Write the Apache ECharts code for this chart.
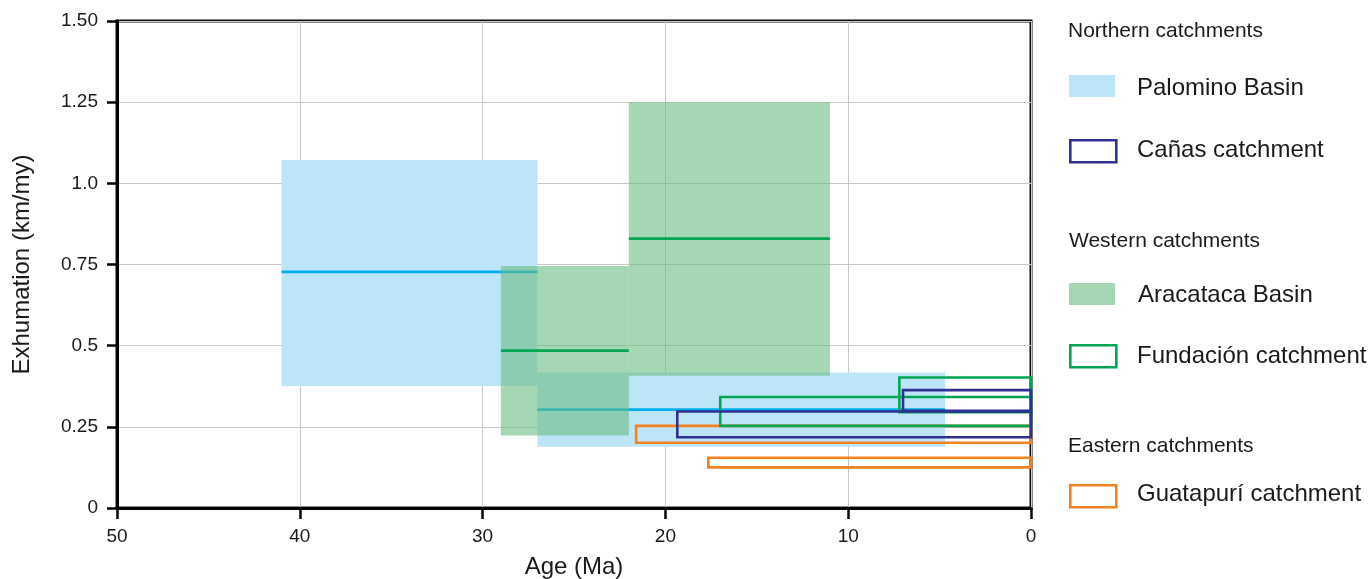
<!DOCTYPE html>
<html>
<head>
<meta charset="utf-8">
<script src="https://cdn.jsdelivr.net/npm/echarts@6/dist/echarts.min.js"></script>
<style>html,body{margin:0;padding:0;background:#fff;}#c{width:1369px;height:579px;}</style>
</head>
<body>
<div id="c"></div>
<script>
// Data: each box = [older age (Ma), younger age (Ma), low rate, high rate, mean rate]
var palominoBoxes = [[41, 27, 0.376, 1.072, 0.727], [27, 4.7, 0.189, 0.417, 0.303]];
var aracatacaBoxes = [[29, 22, 0.223, 0.745, 0.485], [22, 11, 0.407, 1.25, 0.83]];
// outline boxes = [older age, younger age, low rate, high rate]
var canasBoxes = [[19.35, 0, 0.218, 0.297], [7.0, 0, 0.299, 0.363]];
var fundacionBoxes = [[17.0, 0, 0.253, 0.342], [7.2, 0, 0.295, 0.402]];
var guatapuriBoxes = [[21.6, 0, 0.201, 0.253], [17.65, 0, 0.125, 0.155]];
var xTicks = [50, 40, 30, 20, 10, 0];
var yTickLabels = {'0': '0', '0.25': '0.25', '0.5': '0.5', '0.75': '0.75', '1': '1.0', '1.25': '1.25', '1.5': '1.50'};

var FONT = '"Liberation Sans", Arial, sans-serif';

function filledBox(fill, lineColor, opacity) {
  return function (params, api) {
    var p1 = api.coord([api.value(0), api.value(3)]);
    var p2 = api.coord([api.value(1), api.value(2)]);
    var pm1 = api.coord([api.value(0), api.value(4)]);
    var pm2 = api.coord([api.value(1), api.value(4)]);
    var x = Math.min(p1[0], p2[0]), y = Math.min(p1[1], p2[1]);
    return {
      type: 'group',
      children: [
        {type: 'rect', shape: {x: x, y: y, width: Math.abs(p2[0] - p1[0]), height: Math.abs(p2[1] - p1[1])},
         style: {fill: fill, opacity: opacity}},
        {type: 'line', shape: {x1: pm1[0], y1: pm1[1], x2: pm2[0], y2: pm2[1]},
         style: {stroke: lineColor, lineWidth: 2.8}}
      ]
    };
  };
}
function outlineBox(color) {
  return function (params, api) {
    var p1 = api.coord([api.value(0), api.value(3)]);
    var p2 = api.coord([api.value(1), api.value(2)]);
    var x = Math.min(p1[0], p2[0]), y = Math.min(p1[1], p2[1]);
    return {type: 'rect', shape: {x: x, y: y, width: Math.abs(p2[0] - p1[0]), height: Math.abs(p2[1] - p1[1])},
            style: {fill: 'none', stroke: color, lineWidth: 2.6}};
  };
}

var chart = echarts.init(document.getElementById('c'), null, {renderer: 'canvas'});

var legendX = 1069, legendTextX = 1137;
function swatch(y, fill, stroke) {
  return {type: 'rect', left: legendX, top: y - 11, shape: {x: 0, y: 0, width: 46, height: 22},
          style: stroke ? {fill: '#fff', stroke: stroke, lineWidth: 2.6} : {fill: fill}};
}
function ltext(x, y, t, size) {
  return {type: 'text', x: x, y: y, style: {text: t, font: size + 'px ' + FONT, fill: '#1a1a1a', textVerticalAlign: 'middle', verticalAlign: 'middle'}};
}

chart.setOption({
  animation: false,
  grid: {left: 117, right: 338, top: 21, bottom: 71, show: true, borderColor: '#111', borderWidth: 3, backgroundColor: 'transparent',
         containLabel: false, outerBoundsMode: 'none'},
  xAxis: {
    type: 'value', min: 0, max: 50, interval: 10, inverse: true,
    name: 'Age (Ma)', nameLocation: 'middle', nameGap: 47,
    nameTextStyle: {fontFamily: FONT, fontSize: 24, color: '#1a1a1a'},
    axisLine: {show: true, onZero: false, lineStyle: {color: '#000', width: 3}},
    axisTick: {show: true, length: 11, lineStyle: {color: '#000', width: 2.5}},
    axisLabel: {fontFamily: FONT, fontSize: 19, color: '#1a1a1a', margin: 19,
      formatter: function (v) { return xTicks.indexOf(v) >= 0 ? String(v) : ''; }},
    splitLine: {show: true, lineStyle: {color: '#c8c8c8', width: 1}}
  },
  yAxis: {
    type: 'value', min: 0, max: 1.5, interval: 0.25,
    name: 'Exhumation (km/my)', nameLocation: 'middle', nameGap: 83, nameRotate: 90,
    nameTextStyle: {fontFamily: FONT, fontSize: 24, color: '#1a1a1a'},
    axisLine: {show: true, onZero: false, lineStyle: {color: '#000', width: 3}},
    axisTick: {show: true, length: 10, lineStyle: {color: '#000', width: 2.5}},
    axisLabel: {fontFamily: FONT, fontSize: 19, color: '#1a1a1a', margin: 19,
      formatter: function (v) { var k = String(Math.round(v * 100) / 100); return yTickLabels[k] !== undefined ? yTickLabels[k] : k; }},
    splitLine: {show: true, lineStyle: {color: '#c8c8c8', width: 1}}
  },
  series: [
    {name: 'Palomino Basin', type: 'custom', renderItem: filledBox('#BDE5F8', '#00AEEF', 1), data: palominoBoxes, z: 2},
    {name: 'Aracataca Basin', type: 'custom', renderItem: filledBox('rgb(107,188,130)', '#00A651', 0.6), data: aracatacaBoxes, z: 3},
    {name: 'Guatapurí catchment', type: 'custom', renderItem: outlineBox('#F58220'), data: guatapuriBoxes, z: 4},
    {name: 'Fundación catchment', type: 'custom', renderItem: outlineBox('#00A651'), data: fundacionBoxes, z: 5},
    {name: 'Cañas catchment', type: 'custom', renderItem: outlineBox('#2E3192'), data: canasBoxes, z: 6}
  ],
  graphic: [
    ltext(1068, 31, 'Northern catchments', 21),
    swatch(86, '#BDE5F8'), ltext(legendTextX, 88, 'Palomino Basin', 24),
    swatch(150, null, '#2E3192'), ltext(legendTextX, 150, 'Cañas catchment', 24),
    ltext(1069, 241, 'Western catchments', 21),
    swatch(294, '#A6D7B4'), ltext(legendTextX + 1, 295, 'Aracataca Basin', 24),
    swatch(355, null, '#00A651'), ltext(legendTextX, 356, 'Fundación catchment', 24),
    ltext(1068, 446, 'Eastern catchments', 21),
    swatch(495, null, '#F58220'), ltext(legendTextX, 494, 'Guatapurí catchment', 24)
  ]
});
</script>
</body>
</html>
